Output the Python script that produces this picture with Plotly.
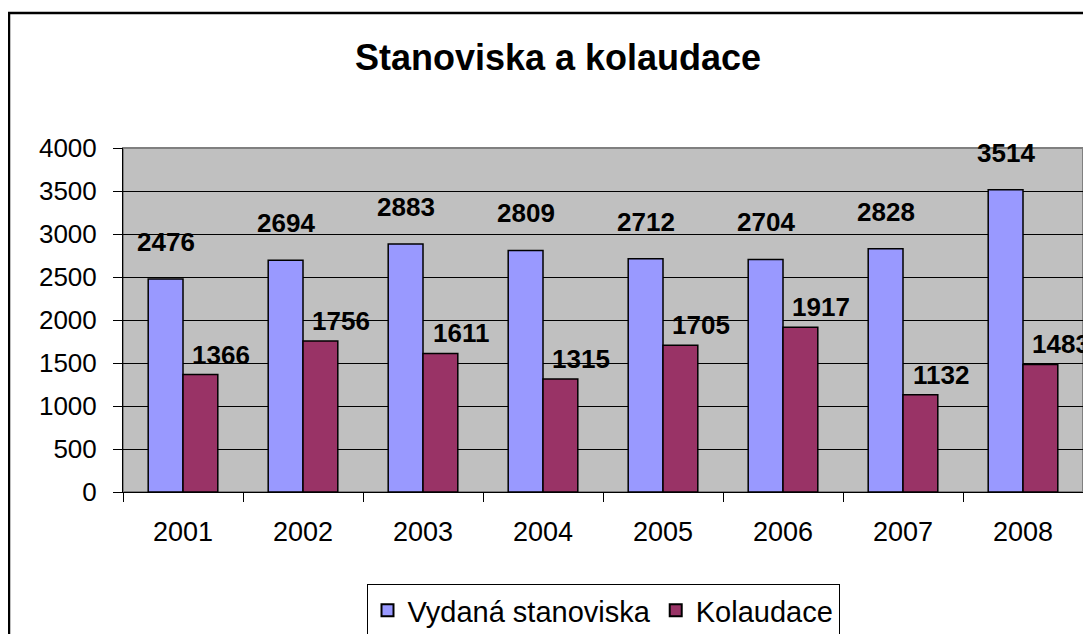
import plotly.graph_objects as go

years = ["2001", "2002", "2003", "2004", "2005", "2006", "2007", "2008"]
stanoviska = [2476, 2694, 2883, 2809, 2712, 2704, 2828, 3514]
kolaudace = [1366, 1756, 1611, 1315, 1705, 1917, 1132, 1483]
series_names = ["Vydaná stanoviska", "Kolaudace"]
y_ticks = [0, 500, 1000, 1500, 2000, 2500, 3000, 3500, 4000]

FONT = "Liberation Sans, Arial, sans-serif"
OFF = 8  # page body margin
W, H = 1091 - OFF, 634 - OFF
L, T = 123 - OFF, 148 - OFF
R = W - (1083 - OFF)
B = H - (492 - OFF)
pw, ph = W - L - R, H - T - B

fig = go.Figure()
series = [(series_names[0], stanoviska, "#9999FF", -17.5, 37),
          (series_names[1], kolaudace, "#993366", 37.5, 20)]
for name, vals, col, xs, ys in series:
    fig.add_trace(go.Bar(
        x=years, y=vals, name=name,
        marker=dict(color=col, line=dict(color="black", width=1.5)),
    ))
    for i, v in enumerate(vals):
        fig.add_annotation(x=i, y=v, xref="x", yref="y", text=f"<b>{v}</b>",
                           showarrow=False, xshift=xs, yshift=ys,
                           xanchor="center", yanchor="middle",
                           font=dict(family=FONT, size=26, color="black"))

fig.update_layout(
    width=W, height=H,
    margin=dict(l=L, r=R, t=T, b=B, autoexpand=False),
    paper_bgcolor="white", plot_bgcolor="#C0C0C0",
    barmode="group", bargap=0.42, bargroupgap=0.0,
    font=dict(family=FONT, size=26, color="black"),
    title=dict(text="<b>Stanoviska a kolaudace</b>", x=(558 - OFF) / W, xanchor="center",
               y=1 - (57 - OFF) / H, yanchor="middle",
               font=dict(family=FONT, size=36, color="black")),
    showlegend=True,
    legend=dict(orientation="h", x=0.5, xanchor="center",
                y=(492 - 584) / ph, yanchor="top",
                bordercolor="black", borderwidth=1, bgcolor="white",
                font=dict(family=FONT, size=29, color="black"),
                itemsizing="constant", itemwidth=30, traceorder="normal"),
)
fig.update_xaxes(
    type="category", categoryorder="array", categoryarray=years,
    range=[-0.5, len(years) - 0.5], tickangle=0,
    showgrid=False, showline=True, linecolor="black", linewidth=1,
    ticks="outside", tickson="boundaries", ticklen=9, tickcolor="black",
    ticklabelstandoff=16, tickfont=dict(family=FONT, size=27),
)
fig.update_yaxes(
    range=[0, 4000], tickvals=y_ticks, ticktext=[str(v) for v in y_ticks],
    showgrid=True, gridcolor="black", gridwidth=1,
    showline=True, linecolor="black", linewidth=1,
    ticks="outside", ticklen=9, tickcolor="black", ticklabelstandoff=11,
    tickfont=dict(family=FONT, size=26), zeroline=False,
)
# plot-area frame (grey) and outer chart frame (black)
fig.add_shape(type="rect", xref="paper", yref="paper", x0=0, y0=0, x1=1, y1=1,
              line=dict(color="#808080", width=2), layer="below")
fig.add_shape(type="rect", xref="paper", yref="paper",
              x0=(9 - OFF - L) / pw, y0=-0.6, x1=1.1, y1=1 + (T - (13 - OFF)) / ph,
              line=dict(color="black", width=2.5))

fig.write_html("out.html")
